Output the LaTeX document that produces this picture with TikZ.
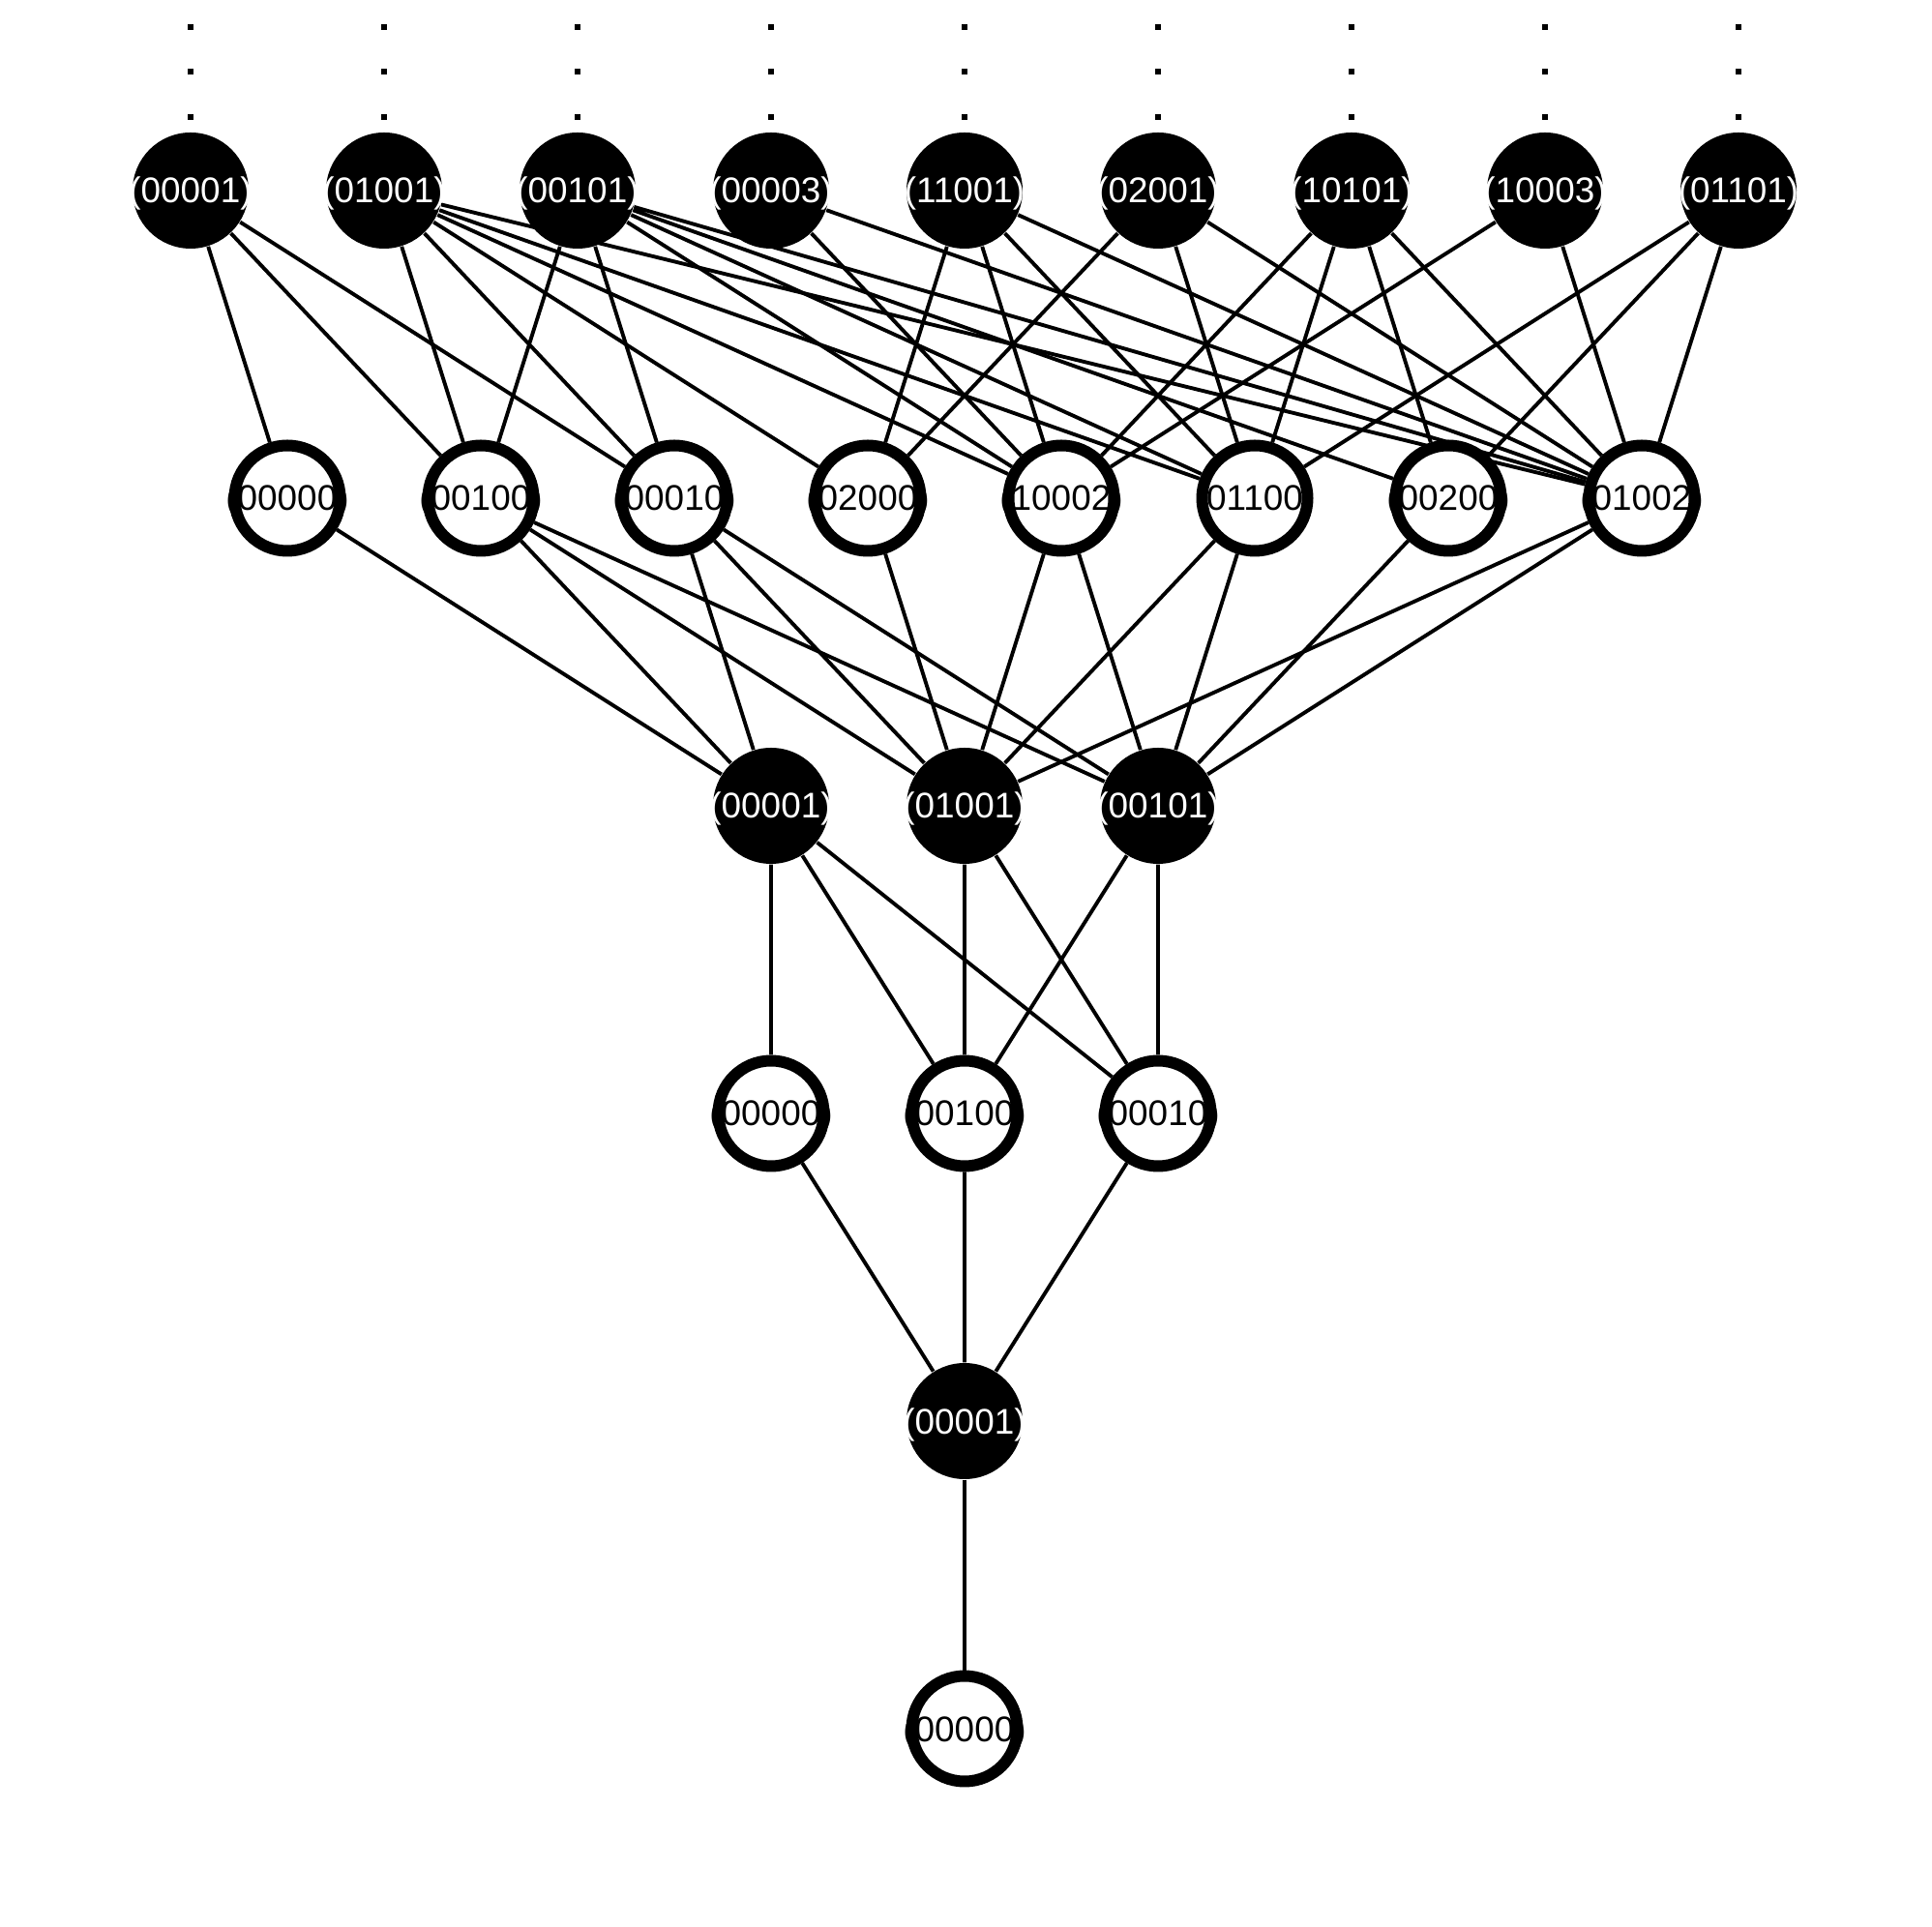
\documentclass[tikz,border=0pt]{standalone}
\usepackage{fontspec}
\setmainfont{Liberation Sans}
\usetikzlibrary{backgrounds}
\newcommand{\lbl}[1]{\makebox[0pt]{#1}}

\begin{document}
\begin{tikzpicture}[line cap=round, line join=round,
    dark/.style={circle, fill=black, text=white, minimum size=12mm, inner sep=0pt,
      text height=0.74em, text depth=0pt, font=\fontsize{10.5}{12}\selectfont},
    light/.style={circle, draw=black, fill=white, line width=1.2mm, minimum size=10.9mm,
      inner sep=0pt, text height=0.74em, text depth=0pt, font=\fontsize{10.5}{12}\selectfont},
    link/.style={line width=1.1pt}]
  \useasboundingbox (0,0) rectangle (19.97,19.91);

  % Dots above the top level
  \foreach \x in {1.97,3.97,5.97,7.97,9.97,11.97,13.97,15.97,17.97}
    \foreach \y in {19.63,19.17,18.70}
      \fill (\x-0.03,\y-0.03) rectangle ++(0.06,0.06);

  % Level 5
  \node[dark] (A1) at (1.97,17.94) {\lbl{(00001)}};
  \node[dark] (A2) at (3.97,17.94) {\lbl{(01001)}};
  \node[dark] (A3) at (5.97,17.94) {\lbl{(00101)}};
  \node[dark] (A4) at (7.97,17.94) {\lbl{(00003)}};
  \node[dark] (A5) at (9.97,17.94) {\lbl{(11001)}};
  \node[dark] (A6) at (11.97,17.94) {\lbl{(02001)}};
  \node[dark] (A7) at (13.97,17.94) {\lbl{(10101)}};
  \node[dark] (A8) at (15.97,17.94) {\lbl{(10003)}};
  \node[dark] (A9) at (17.97,17.94) {\lbl{(01101)}};

  % Level 4
  \node[light] (B1) at (2.97,14.76) {\lbl{(00000)}};
  \node[light] (B2) at (4.97,14.76) {\lbl{(00100)}};
  \node[light] (B3) at (6.97,14.76) {\lbl{(00010)}};
  \node[light] (B4) at (8.97,14.76) {\lbl{(02000)}};
  \node[light] (B5) at (10.97,14.76) {\lbl{(10002)}};
  \node[light] (B6) at (12.97,14.76) {\lbl{(01100)}};
  \node[light] (B7) at (14.97,14.76) {\lbl{(00200)}};
  \node[light] (B8) at (16.97,14.76) {\lbl{(01002)}};

  % Level 3
  \node[dark] (C1) at (7.97,11.58) {\lbl{(00001)}};
  \node[dark] (C2) at (9.97,11.58) {\lbl{(01001)}};
  \node[dark] (C3) at (11.97,11.58) {\lbl{(00101)}};

  % Level 2
  \node[light] (D1) at (7.97,8.40) {\lbl{(00000)}};
  \node[light] (D2) at (9.97,8.40) {\lbl{(00100)}};
  \node[light] (D3) at (11.97,8.40) {\lbl{(00010)}};

  % Levels 1 and 0
  \node[dark] (E) at (9.97,5.22) {\lbl{(00001)}};
  \node[light] (F) at (9.97,2.04) {\lbl{(00000)}};

  \begin{scope}[on background layer]
    % Level 5 -- level 4
    \draw[link] (A1) -- (B1) (A1) -- (B2) (A1) -- (B3);
    \draw[link] (A2) -- (B2) (A2) -- (B3) (A2) -- (B4) (A2) -- (B5) (A2) -- (B6) (A2) -- (B8);
    \draw[link] (A3) -- (B2) (A3) -- (B3) (A3) -- (B5) (A3) -- (B6) (A3) -- (B7) (A3) -- (B8);
    \draw[link] (A4) -- (B5) (A4) -- (B8);
    \draw[link] (A5) -- (B4) (A5) -- (B5) (A5) -- (B6) (A5) -- (B8);
    \draw[link] (A6) -- (B4) (A6) -- (B6) (A6) -- (B8);
    \draw[link] (A7) -- (B5) (A7) -- (B6) (A7) -- (B7) (A7) -- (B8);
    \draw[link] (A8) -- (B5) (A8) -- (B8);
    \draw[link] (A9) -- (B6) (A9) -- (B7) (A9) -- (B8);

    % Level 4 -- level 3
    \draw[link] (C1) -- (B1) (C1) -- (B2) (C1) -- (B3);
    \draw[link] (C2) -- (B2) (C2) -- (B3) (C2) -- (B4) (C2) -- (B5) (C2) -- (B6) (C2) -- (B8);
    \draw[link] (C3) -- (B2) (C3) -- (B3) (C3) -- (B5) (C3) -- (B6) (C3) -- (B7) (C3) -- (B8);

    % Level 3 -- level 2
    \draw[link] (C1) -- (D1) (C1) -- (D2) (C1) -- (D3);
    \draw[link] (C2) -- (D2) (C2) -- (D3);
    \draw[link] (C3) -- (D2) (C3) -- (D3);

    % Level 2 -- level 0
    \draw[link] (E) -- (D1) (E) -- (D2) (E) -- (D3);
    \draw[link] (E) -- (F);
  \end{scope}
\end{tikzpicture}
\end{document}
